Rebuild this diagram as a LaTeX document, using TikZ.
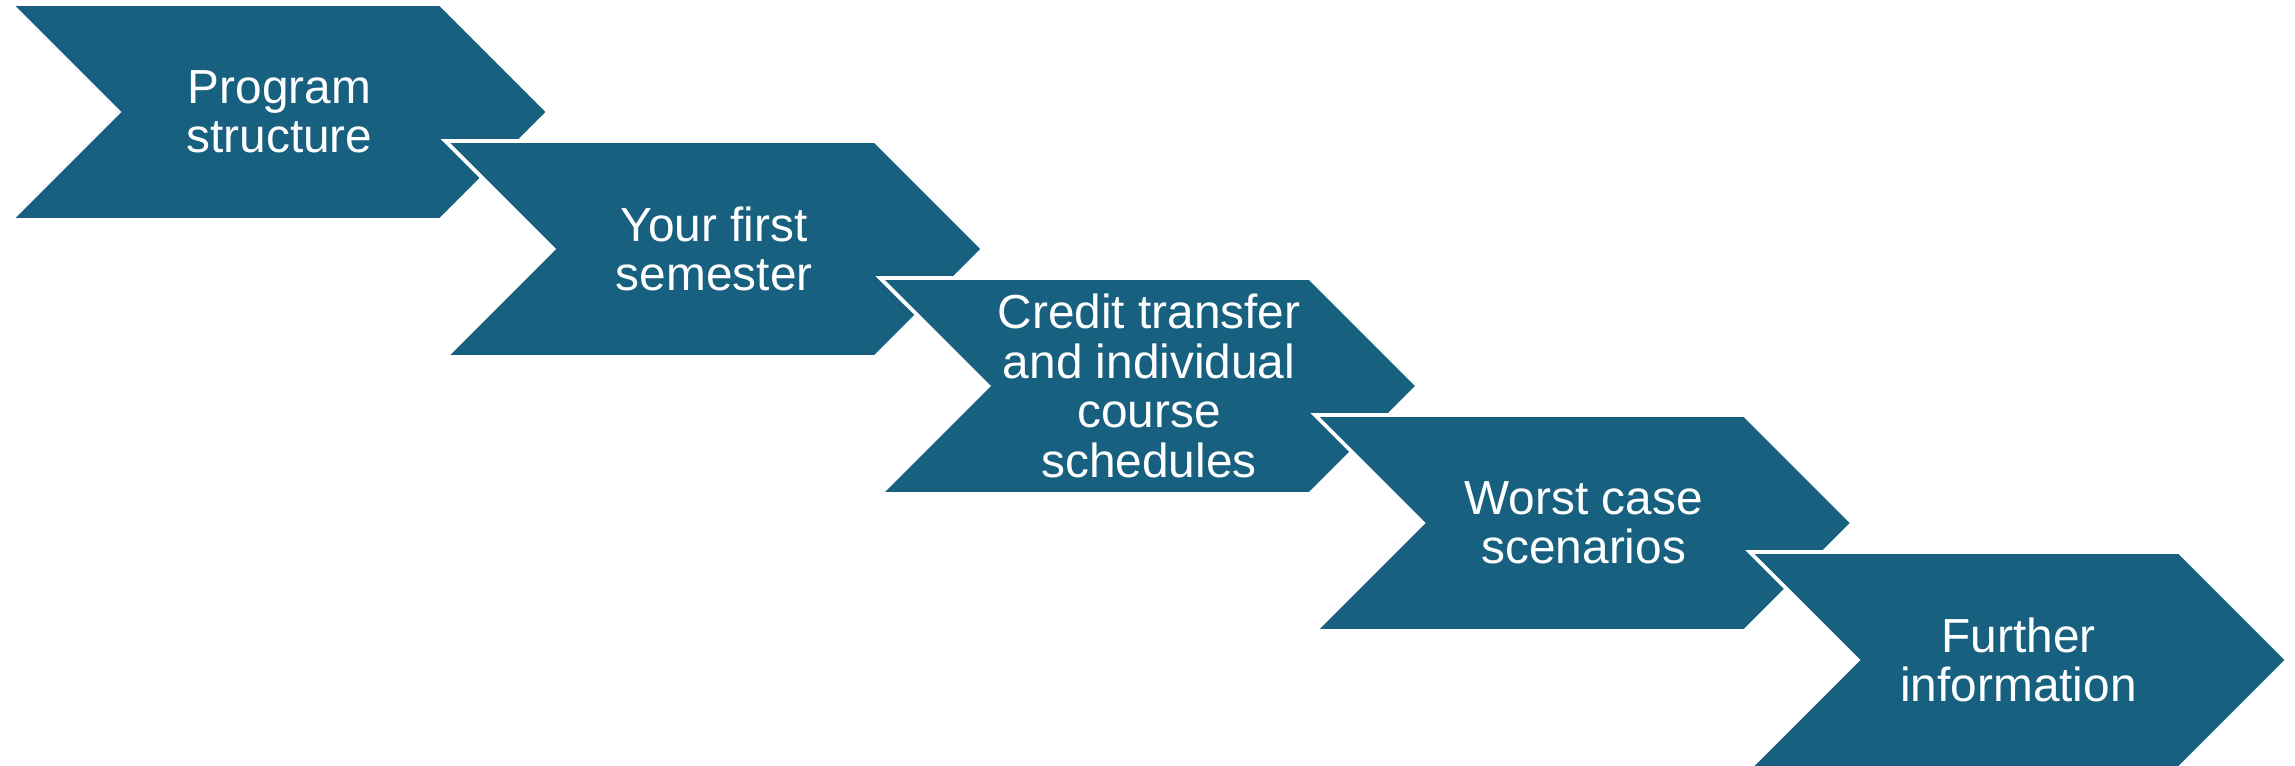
\documentclass[tikz,border=0pt]{standalone}
\usepackage{fontspec}
\setmainfont{Liberation Sans}
\usetikzlibrary{shapes.symbols,positioning}

\definecolor{stepblue}{RGB}{23,96,128}

\begin{document}
\begin{tikzpicture}[
  every node/.style={align=center},
  chevron/.style={shape=signal,signal from=west,signal to=east,
    signal pointer angle=90,fill=stepblue,draw=white,line width=1.1pt,
    minimum width=5.376cm,minimum height=2.16cm,inner sep=0pt,
    text=white,font=\fontsize{13.6}{14.1}\selectfont},
  node distance=1.37cm and 4.3475cm,on grid]

  % fix the page to the size of the reference
  \useasboundingbox (0,0) rectangle (22.95,7.66);

  % the five steps, each one lying over the one before
  \node[chevron] (s1) at (2.795,6.54) {Program\\structure};
  \node[chevron,below right=of s1] (s2) {Your first\\semester};
  \node[chevron,below right=of s2] (s3) {Credit transfer\\and individual\\course\\schedules};
  \node[chevron,below right=of s3] (s4) {Worst case\\scenarios};
  \node[chevron,below right=of s4] (s5) {Further\\information};

\end{tikzpicture}
\end{document}
